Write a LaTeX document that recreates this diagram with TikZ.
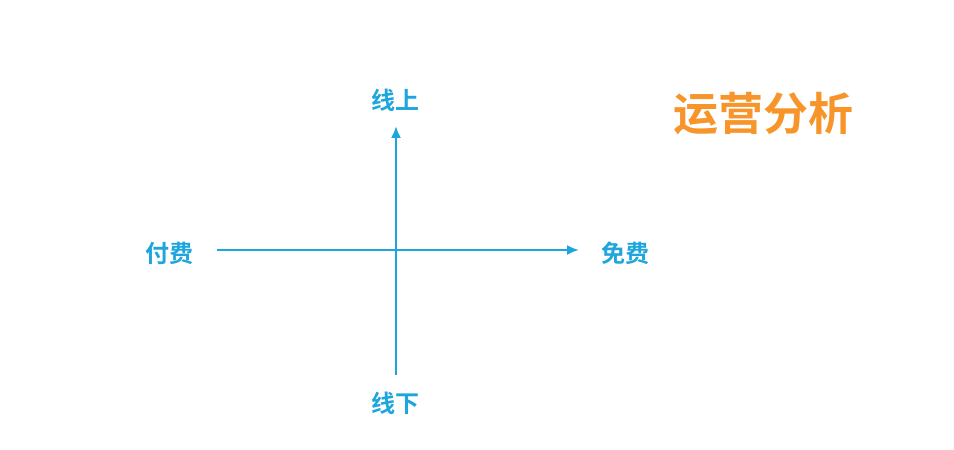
\documentclass[tikz,border=0pt]{standalone}
\usepackage{fontspec}
\newfontfamily\cjk{Noto Sans CJK SC Bold}
\usetikzlibrary{arrows.meta}
\definecolor{axisblue}{HTML}{1DA5DD}
\definecolor{titleorange}{HTML}{F7952A}
\tikzset{
  axis/.style={axisblue,line width=2pt,-{Latex[length=12pt,width=10pt]}},
  lab/.style={text=axisblue,font=\cjk\fontsize{24}{24}\selectfont,inner sep=0pt},
  title/.style={text=titleorange,font=\cjk\fontsize{45}{45}\selectfont,inner sep=0pt}
}
\begin{document}
\begin{tikzpicture}[x=1pt,y=1pt]
			\useasboundingbox (0,0) rectangle (954,450);
			\coordinate (L) at (217,200);
			\coordinate (R) at (579,200);
			\coordinate (D) at (396,75);
			\coordinate (U) at (396,324);
			\draw[axis] (L) -- (R);
			\draw[axis] (D) -- (U);
			\node[lab] (online) at (395,350) {线上};
			\node[lab] (offline) at (395,47) {线下};
			\node[lab] (paid) at (169,197) {付费};
			\node[lab] (free) at (625,197) {免费};
			\node[title] (ops) at (763,336) {运营分析};
		\end{tikzpicture}
\end{document}
